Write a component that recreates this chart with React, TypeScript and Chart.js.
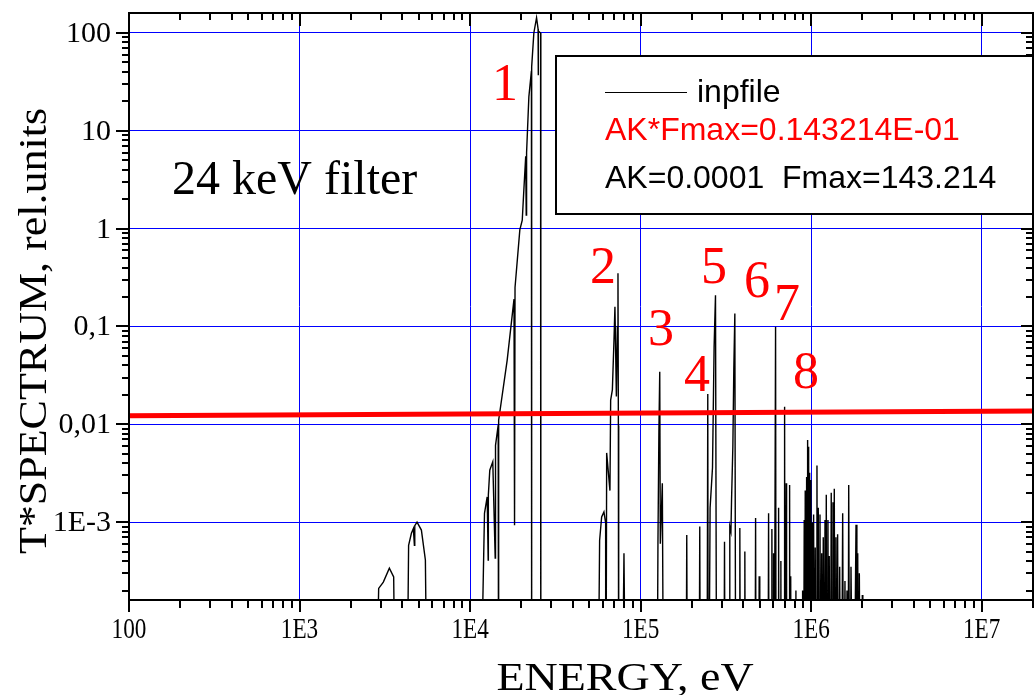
import React, { useEffect, useRef } from 'react';
import { Chart, registerables } from 'chart.js';

Chart.register(...registerables);

// value used for points that sit below the axis floor (drawn as drops to the bottom)
const B = 1e-6;

// Spectrum segments: [energy eV, T*spectrum]
const lowEnergyBumps: [number, number][] = [
  [2746, B], [2911, 2.1e-4], [3100, 2.44e-4], [3363, 3.39e-4], [3565, 2.76e-4], [3697, B],
  [4215, B], [4361, 5.8e-4], [4529, 7.7e-4], [4650, 8.6e-4], [4716, 5.8e-4], [4740, 9.2e-4],
  [4887, 1.0e-3], [5183, 8.3e-4], [5470, 4.1e-4], [5675, B],
];

const mainPeak: [number, number][] = [
  [11250, B], [12150, 1.23e-3], [12600, 1.81e-3], [12770, 4.1e-4], [12800, 1.9e-3],
  [13050, 3.4e-3], [13590, 4.14e-3], [14040, 4.3e-4], [14100, 6.1e-3], [14620, 9.8e-3],
  [14680, B], [14740, 0.011], [16500, 0.045], [18100, 0.19], [18230, 9.3e-4], [18350, 0.25],
  [19580, 0.97], [20230, 1.22], [20670, 2.48], [21200, 5.5], [21350, 1.38], [21450, 6.0],
  [22120, 22.2], [22900, 41], [22950, B], [23000, 45], [23660, 100], [24540, 143.2],
  [25050, 110], [25100, 37], [25150, 105], [25910, 100], [26000, B],
];

const peak2: [number, number][] = [
  [55720, B], [57500, 6.5e-4], [59100, 1.13e-3], [60960, 1.27e-3], [62370, 9.8e-4], [62500, B],
  [63240, 5.1e-3], [66110, 2.1e-3], [66740, 0.0177], [68300, 0.0225], [69800, 0.072],
  [70720, 0.159], [72100, 0.0193], [73080, 0.099], [73680, 0.349], [74070, 9.7e-3], [74400, B],
  [77020, B], [79890, 4.8e-4], [82540, B],
];

const peak3: [number, number][] = [
  [124300, B], [126400, 6.1e-4], [128000, 8e-3], [129500, 0.0344], [130500, 6e-4],
  [134100, 2.5e-3], [137100, B],
  [184000, B], [186500, 7.4e-4], [189000, B],
  [219500, B], [222300, 9e-4], [225000, B],
];

const peaks45: [number, number][] = [
  [244500, B], [247700, 0.0204], [249500, B], [255600, 1.4e-3], [264000, 3.6e-3],
  [269800, 0.062], [274900, 0.209], [279900, B],
  [307000, B], [310500, 6.3e-4], [314000, B],
];

const peaks67: [number, number][] = [
  [331000, B], [333500, 9e-4], [338600, 8e-4], [341500, 1.7e-3], [347500, 5.9e-3],
  [352000, 0.036], [357000, 0.136], [362000, B],
  [378000, B], [381900, 8.7e-4], [386000, B],
  [404000, B], [408600, 5e-4], [413000, B],
  [467000, B], [472400, 1.1e-3], [477000, B],
  [491000, B], [495800, 2.8e-4], [500000, B],
  [557000, B], [563000, 1.23e-3], [568000, B],
  [584000, B], [588700, 8.5e-4], [595000, B],
  [598000, B], [602400, 4.8e-4], [606000, B],
  [612000, B], [618700, 0.0993], [624000, B],
  [640000, B], [644500, 1.4e-3], [649000, B],
  [661000, B], [664700, 4e-4], [668000, B],
  [694000, B], [698900, 0.0151], [703000, B],
  [710000, B], [714200, 2.5e-3], [718000, B],
  [743000, B], [747800, 2.4e-3], [752000, B],
  [757000, B], [761000, 2.8e-4], [765000, B],
  [810000, B], [814300, 2e-4], [818000, B],
];

const cluster: [number, number][] = [
  [885000, B], [891300, 2e-4], [900000, B], [910900, 1.05e-3], [917000, B], [923400, 2.1e-3],
  [932000, B], [941000, 2.9e-3], [947000, B], [953700, 6.9e-3], [960000, B], [966700, 5.9e-3],
  [973000, B], [979900, 3.2e-3], [988000, B], [997300, 2.7e-3], [1006000, B], [1015000, 9.9e-4],
  [1024000, B], [1034000, 1.2e-3], [1045000, B], [1057000, 5.5e-4], [1069000, B], [1082000, 3.8e-3],
  [1091000, B], [1101000, 1.4e-3], [1114000, B], [1127000, 1.2e-3], [1140000, B], [1153000, 4.8e-4],
  [1165000, B], [1178000, 7e-4], [1192000, B], [1206000, 1.05e-3], [1216000, B], [1227000, 1.9e-3],
  [1241000, B], [1255000, 1.05e-3], [1266000, B], [1277000, 4.5e-4], [1294000, B], [1312000, 2.0e-3],
  [1327000, B], [1343000, 1.6e-3], [1355000, B], [1367000, 2.2e-3], [1382000, B], [1398000, 7e-4],
  [1414000, B], [1430000, 7.5e-4], [1450000, B], [1470000, 3.5e-4], [1500000, B], [1531000, 1.23e-3],
  [1555000, B], [1579000, 2.5e-4], [1600000, B], [1623000, 2e-4], [1642000, B], [1661000, 2.4e-3],
  [1687000, B], [1713000, 3.5e-4], [1770000, B], [1833000, 9.4e-4], [1855000, B], [1876000, 4.8e-4],
  [1896000, B], [1917000, 3e-4], [1955000, B], [1996000, 1.8e-4], [2010000, B],
];

const spectrum = [...lowEnergyBumps, ...mainPeak, ...peak2, ...peak3, ...peaks45, ...peaks67, ...cluster];

// red reference level AK*Fmax
const thresholdEnergy = [100, 2e7];
const thresholdValue = [0.0122, 0.0137];

const xTickValues = [100, 1e3, 1e4, 1e5, 1e6, 1e7];
const xTickLabels = ['100', '1E3', '1E4', '1E5', '1E6', '1E7'];
const yTickValues = [1e-3, 1e-2, 0.1, 1, 10, 100];
const yTickLabels = ['1E-3', '0,01', '0,1', '1', '10', '100'];

const peakLabels = ['1', '2', '3', '4', '5', '6', '7', '8'];

const X_MIN = 100, X_MAX = 2e7, Y_MIN = 1.6e-4, Y_MAX = 160;

function logTicks(min: number, max: number) {
  const out: { v: number; major: boolean }[] = [];
  for (let k = Math.floor(Math.log10(min)); k <= Math.ceil(Math.log10(max)); k++) {
    for (let d = 1; d <= 9; d++) {
      const v = d * Math.pow(10, k);
      if (v >= min * 0.9999 && v <= max * 1.0001) out.push({ v, major: d === 1 });
    }
  }
  return out;
}

const SERIF = '"Liberation Serif", "Times New Roman", serif';
const SANS = '"Liberation Sans", Arial, sans-serif';

const decor = {
  id: 'decor',
  afterDraw(chart: any) {
    const { ctx, chartArea: a, scales } = chart;
    const xs = scales.x, ys = scales.y;
    ctx.save();
    // ticks
    ctx.strokeStyle = '#000';
    ctx.lineWidth = 2;
    ctx.beginPath();
    for (const t of logTicks(X_MIN, X_MAX)) {
      const px = Math.round(xs.getPixelForValue(t.v));
      const lb = t.major ? 12 : 8;
      const lt = t.major ? 13 : 7;
      ctx.moveTo(px, a.bottom); ctx.lineTo(px, a.bottom + lb);
      ctx.moveTo(px, a.top); ctx.lineTo(px, a.top + lt);
    }
    for (const t of logTicks(Y_MIN, Y_MAX)) {
      const py = Math.round(ys.getPixelForValue(t.v));
      const ll = t.major ? 13 : 7;
      const lr = t.major ? 12 : 7;
      ctx.moveTo(a.left, py); ctx.lineTo(a.left - ll, py);
      ctx.moveTo(a.right, py); ctx.lineTo(a.right - lr, py);
    }
    ctx.stroke();
    ctx.strokeRect(a.left, a.top, a.right - a.left, a.bottom - a.top);

    // tick labels
    ctx.fillStyle = '#000';
    ctx.textBaseline = 'middle';
    ctx.font = `29px ${SERIF}`;
    xTickValues.forEach((v, i) => {
      const px = xs.getPixelForValue(v);
      ctx.save();
      ctx.translate(px, 630);
      ctx.scale(0.8, 1);
      ctx.textAlign = 'center';
      ctx.fillText(xTickLabels[i], 0, 0);
      ctx.restore();
    });
    ctx.textAlign = 'right';
    ctx.font = `30px ${SERIF}`;
    yTickValues.forEach((v, i) => {
      const py = ys.getPixelForValue(v);
      ctx.fillText(yTickLabels[i], 111, py + 1);
    });

    // axis titles
    ctx.textAlign = 'center';
    ctx.font = `40px ${SERIF}`;
    ctx.save();
    ctx.translate(625, 679);
    ctx.scale(1.15, 1);
    ctx.fillText('ENERGY, eV', 0, 0);
    ctx.restore();
    ctx.save();
    ctx.translate(35, 331);
    ctx.rotate(-Math.PI / 2);
    ctx.scale(1.1, 1);
    ctx.fillText('T*SPECTRUM, rel.units', 0, 0);
    ctx.restore();

    // annotation
    ctx.textAlign = 'left';
    ctx.font = `48px ${SERIF}`;
    ctx.fillText('24 keV filter', 172, 181);

    // peak numbers
    ctx.fillStyle = '#ff0000';
    ctx.textAlign = 'center';
    ctx.font = `52px ${SERIF}`;
    const pos = [[505, 86], [603, 269], [661, 331], [697, 377], [714, 269], [757, 283], [787, 306], [806, 374]];
    peakLabels.forEach((l, i) => ctx.fillText(l, pos[i][0], pos[i][1]));

    // legend box
    ctx.fillStyle = '#fff';
    ctx.fillRect(556, 56, a.right - 556, 158);
    ctx.strokeStyle = '#000';
    ctx.lineWidth = 2;
    ctx.strokeRect(556, 56, a.right - 556, 158);
    ctx.lineWidth = 1;
    ctx.beginPath();
    ctx.moveTo(605, 92.5); ctx.lineTo(687, 92.5);
    ctx.stroke();
    ctx.font = `32px ${SANS}`;
    ctx.textAlign = 'left';
    ctx.fillStyle = '#000';
    ctx.fillText('inpfile', 697, 93);
    ctx.fillStyle = '#ff0000';
    ctx.fillText('AK*Fmax=0.143214E-01', 605, 131);
    ctx.fillStyle = '#000';
    ctx.fillText('AK=0.0001  Fmax=143.214', 605, 179);
    ctx.restore();
  },
};

export default function App() {
  const ref = useRef<HTMLCanvasElement>(null);
  useEffect(() => {
    const chart = new Chart(ref.current as HTMLCanvasElement, {
      type: 'line',
      data: {
        datasets: [
          {
            label: 'AK*Fmax',
            data: thresholdEnergy.map((e, i) => ({ x: e, y: thresholdValue[i] })),
            borderColor: '#ff0000',
            borderWidth: 5,
            pointRadius: 0,
            tension: 0,
          },
          {
            label: 'inpfile',
            data: spectrum.map(([x, y]) => ({ x, y })),
            borderColor: '#000000',
            borderWidth: 1.4,
            pointRadius: 0,
            tension: 0,
          },
        ],
      },
      options: {
        responsive: false,
        animation: false,
        layout: { padding: { left: 129, top: 13, right: 2, bottom: 95 } },
        plugins: { legend: { display: false }, tooltip: { enabled: false } },
        scales: {
          x: {
            type: 'logarithmic',
            min: X_MIN,
            max: X_MAX,
            ticks: { display: false },
            border: { display: false },
            grid: { color: '#0000ff', lineWidth: 1, drawTicks: false },
            afterBuildTicks: (s: any) => { s.ticks = xTickValues.map((v) => ({ value: v })); },
            afterFit: (s: any) => { s.height = 0; },
          },
          y: {
            type: 'logarithmic',
            min: Y_MIN,
            max: Y_MAX,
            ticks: { display: false },
            border: { display: false },
            grid: { color: '#0000ff', lineWidth: 1, drawTicks: false },
            afterBuildTicks: (s: any) => { s.ticks = yTickValues.map((v) => ({ value: v })); },
            afterFit: (s: any) => { s.width = 0; },
          },
        },
      } as any,
      plugins: [decor],
    });
    return () => chart.destroy();
  }, []);
  return (
    <div style={{ position: 'absolute', left: 0, top: 0, width: 1035, height: 695, background: '#fff' }}>
      <canvas ref={ref} width={1035} height={695} style={{ display: 'block' }} />
    </div>
  );
}
